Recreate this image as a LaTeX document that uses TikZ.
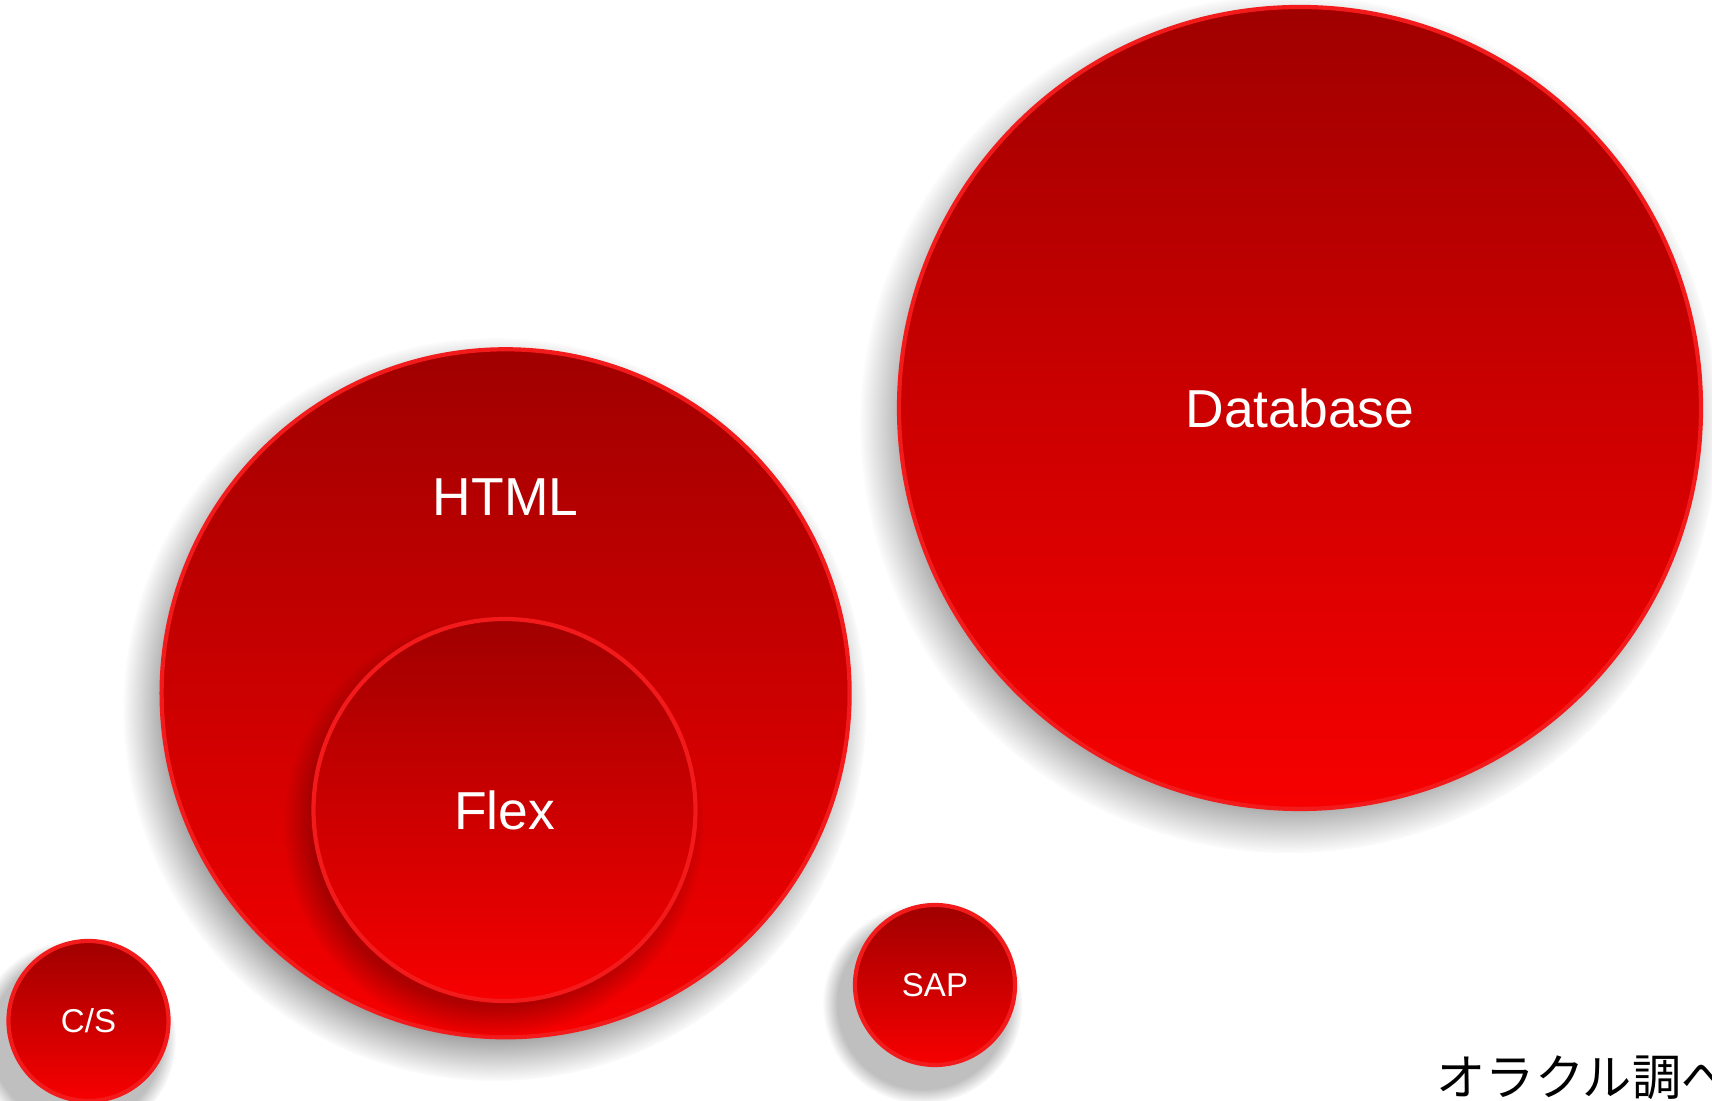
\documentclass[tikz,border=0pt]{standalone}
\usepackage{fontspec}
\setmainfont{Liberation Sans}
\newfontfamily\jpfont{Noto Sans CJK JP}
\usetikzlibrary{shadows,fadings}

\definecolor{discTop}{HTML}{A00000}
\definecolor{discBot}{HTML}{F70000}
\definecolor{discRim}{HTML}{F21A1A}

\tikzset{
  disc/.style 2 args={circle, inner sep=0pt, text=white,
    top color=discTop, bottom color=discBot,
    draw=discRim, line width=1.2pt,
    circular drop shadow={shadow xshift=-0.1cm, shadow yshift=-0.15cm,
      shadow scale=#1, fill=black, opacity=#2}},
  bigtxt/.style={font=\fontsize{15.2}{17}\selectfont, text=white},
  smalltxt/.style={font=\fontsize{9.4}{11}\selectfont}
}

\begin{document}
\begin{tikzpicture}
\useasboundingbox (0,0) rectangle (17.12,11.01);

% big ones
\node[disc={1.07}{0.45}, minimum size=8.02cm, bigtxt] (db) at (13.00,6.93) {Database};
\node[disc={1.08}{0.45}, minimum size=6.88cm] (html) at (5.056,4.077) {};
\node[bigtxt] (htmltxt) at (5.056,6.04) {HTML};
\node[disc={1.1}{0.28}, minimum size=3.82cm, bigtxt] (flex) at (5.045,2.91) {Flex};

% small ones
\node[disc={1.25}{0.25}, minimum size=1.6cm, smalltxt] (cs) at (0.885,0.80) {C/S};
\node[disc={1.25}{0.25}, minimum size=1.6cm, smalltxt] (sap) at (9.35,1.16) {SAP};

% source note (runs off the page edge)
\node[anchor=base west, inner sep=0pt, font=\jpfont\fontsize{14}{16}\selectfont] (src) at (14.36,0.05) {オラクル調べ};
\end{tikzpicture}
\end{document}
